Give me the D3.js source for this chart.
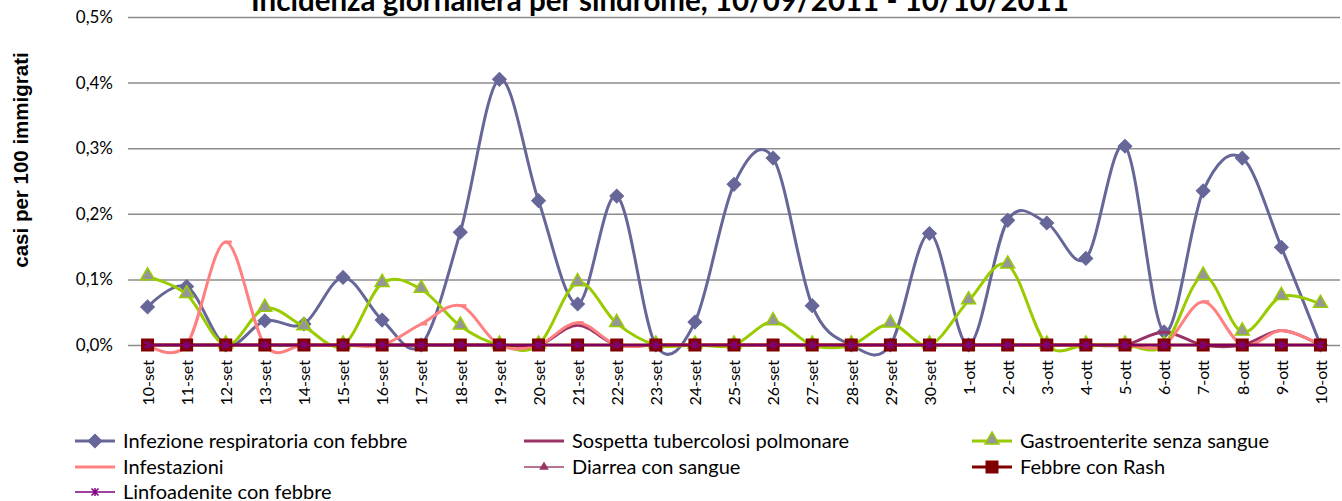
<!DOCTYPE html>
<html>
<head>
<meta charset="utf-8">
<script src="https://cdn.jsdelivr.net/npm/d3@7"></script>
<style>
  body { margin: 0; background: #fff; }
  svg { display: block; font-family: Lato, sans-serif; }
</style>
</head>
<body>
<div id="chart"></div>
<script>
// Data (valori in %)
const days = [
  '10-set', '11-set', '12-set', '13-set', '14-set', '15-set', '16-set', '17-set', '18-set', '19-set', '20-set',
  '21-set', '22-set', '23-set', '24-set', '25-set', '26-set', '27-set', '28-set', '29-set', '30-set',
  '1-ott', '2-ott', '3-ott', '4-ott', '5-ott', '6-ott', '7-ott', '8-ott', '9-ott', '10-ott'
]
const yTicks = [0, 0.1, 0.2, 0.3, 0.4, 0.5]

const infezioneRespiratoria = [
  0.058, 0.089, 0, 0.037, 0.032, 0.103, 0.038, 0, 0.172, 0.405, 0.22,
  0.0625, 0.227, 0, 0.035, 0.245, 0.285, 0.06, 0, 0, 0.17,
  0, 0.19, 0.186, 0.132, 0.303, 0.02, 0.235, 0.285, 0.149, 0
]
const sospettaTbc = [
  0, 0, 0, 0, 0, 0, 0, 0, 0, 0, 0,
  0.03, 0, 0, 0, 0, 0, 0, 0, 0, 0,
  0, 0, 0, 0, 0, 0.02, 0, 0, 0.022, 0
]
const gastroenterite = [
  0.104, 0.077, 0, 0.056, 0.028, 0, 0.094, 0.085, 0.029, 0, 0,
  0.095, 0.033, 0, 0, 0, 0.0355, 0, 0, 0.032, 0,
  0.0675, 0.122, 0, 0, 0, 0, 0.105, 0.02, 0.074, 0.062
]
const infestazioni = [
  0, 0, 0.157, 0, 0, 0, 0, 0.032, 0.06, 0, 0,
  0.034, 0, 0, 0, 0, 0, 0, 0, 0, 0,
  0, 0, 0, 0, 0, 0, 0.066, 0, 0.022, 0
]
const diarreaSangue = days.map(() => 0)
const febbreRash = days.map(() => 0)
const linfoadenite = days.map(() => 0)

const width = 1342
const height = 501

// Series, in Excel drawing order
const series = [
  { name: 'Infezione respiratoria con febbre', values: infezioneRespiratoria, color: '#666699', lineWidth: 3, marker: 'diamond', fill: '#666699', stroke: '#666699' },
  { name: 'Sospetta tubercolosi polmonare', values: sospettaTbc, color: '#993366', lineWidth: 3, marker: null },
  { name: 'Gastroenterite senza sangue', values: gastroenterite, color: '#99CC00', lineWidth: 3, marker: 'triangle', fill: '#969696', stroke: '#99CC00' },
  { name: 'Infestazioni', values: infestazioni, color: '#FF8080', lineWidth: 3, marker: 'dash', fill: '#FF8080', stroke: '#FF8080' },
  { name: 'Diarrea con sangue', values: diarreaSangue, color: '#A0456F', lineWidth: 1.5, marker: 'smalltriangle', fill: '#993366', stroke: '#993366' },
  { name: 'Febbre con Rash', values: febbreRash, color: '#800000', lineWidth: 3, marker: 'square', fill: '#800000', stroke: '#800000' },
  { name: 'Linfoadenite con febbre', values: linfoadenite, color: '#800080', lineWidth: 1.5, marker: 'star', fill: 'none', stroke: '#800080' }
]

const svg = d3.select('#chart')
  .append('svg')
  .attr('width', width)
  .attr('height', height)

// Scales
const plotLeft = 128
const plotRight = 1340
const xScale = d3.scalePoint()
  .domain(days)
  .range([plotLeft, plotRight])
  .padding(0.5)
const yScale = d3.scaleLinear()
  .domain([0, 0.5])
  .range([345, 17])

// Y axis with gridlines
const yAxis = d3.axisLeft(yScale)
  .tickValues(yTicks)
  .tickSize(-(plotRight - plotLeft))
  .tickPadding(15)
  .tickFormat(d => d.toFixed(1).replace('.', ',') + '%')

svg.append('g')
  .attr('id', 'y-axis')
  .attr('transform', `translate(${plotLeft}, 0)`)
  .call(yAxis)
  .call(g => g.select('.domain').remove())
  .call(g => g.selectAll('line').attr('stroke', '#8c8c8c').attr('stroke-width', 1.5))
  .call(g => g.selectAll('text')
    .attr('fill', '#000')
    .style('font-family', 'Lato, sans-serif')
    .style('font-size', '17px'))

// X axis with rotated labels
const xAxis = d3.axisBottom(xScale)
  .tickSize(0)

svg.append('g')
  .attr('id', 'x-axis')
  .attr('transform', `translate(0, ${yScale(0)})`)
  .call(xAxis)
  .call(g => g.select('.domain').remove())
  .call(g => g.selectAll('text')
    .attr('transform', 'rotate(-90)')
    .attr('text-anchor', 'end')
    .attr('x', -15)
    .attr('y', 0)
    .attr('dy', '0.36em')
    .attr('fill', '#000')
    .style('font-family', 'Lato, sans-serif')
    .style('font-size', '16px'))

// Markers
function drawMarker(sel, type, fill, stroke) {
  if (type === 'diamond') {
    sel.append('path')
      .attr('d', d3.symbol(d3.symbolSquare, 95)())
      .attr('transform', 'rotate(45)')
      .attr('fill', fill)
      .attr('stroke', stroke)
  } else if (type === 'triangle') {
    sel.append('path')
      .attr('d', d3.symbol(d3.symbolTriangle, 85)())
      .attr('transform', 'translate(0, -1)')
      .attr('fill', fill)
      .attr('stroke', stroke)
      .attr('stroke-width', 1.5)
  } else if (type === 'smalltriangle') {
    sel.append('path')
      .attr('d', d3.symbol(d3.symbolTriangle, 40)())
      .attr('fill', fill)
  } else if (type === 'square') {
    sel.append('rect')
      .attr('x', -6.5)
      .attr('y', -6.5)
      .attr('width', 13)
      .attr('height', 13)
      .attr('fill', fill)
  } else if (type === 'star') {
    sel.append('path')
      .attr('d', 'M-3.5,-3.5L3.5,3.5M-3.5,3.5L3.5,-3.5M0,-4L0,4')
      .attr('fill', 'none')
      .attr('stroke', stroke)
      .attr('stroke-width', 1.5)
  } else if (type === 'dash') {
    sel.append('path')
      .attr('d', 'M-1,0L6,0')
      .attr('stroke', stroke)
      .attr('stroke-width', 3)
  }
}

// Lines (smoothed like Excel)
const line = d3.line()
  .x((d, i) => xScale(days[i]))
  .y(d => yScale(d))
  .curve(d3.curveCardinal.tension(0))

series.forEach(s => {
  const g = svg.append('g').attr('class', 'series')

  g.append('path')
    .datum(s.values)
    .attr('d', line)
    .attr('fill', 'none')
    .attr('stroke', s.color)
    .attr('stroke-width', s.lineWidth)
    .attr('stroke-linejoin', 'round')

  if (s.marker) {
    g.selectAll('.marker')
      .data(s.values)
      .enter()
      .append('g')
      .attr('class', 'marker')
      .attr('transform', (d, i) => `translate(${xScale(days[i])}, ${yScale(d)})`)
      .each(function () { drawMarker(d3.select(this), s.marker, s.fill, s.stroke) })
  }
})

// Title
svg.append('text')
  .attr('x', 660)
  .attr('y', 11)
  .attr('text-anchor', 'middle')
  .style('font-family', 'Lato, sans-serif')
  .style('font-weight', 'bold')
  .style('font-size', '29.5px')
  .text('Incidenza giornaliera per sindrome, 10/09/2011 - 10/10/2011')

// Y axis title
svg.append('text')
  .attr('transform', 'translate(28, 160) rotate(-90)')
  .attr('text-anchor', 'middle')
  .style('font-family', '"Liberation Sans", Arial, sans-serif')
  .style('font-weight', 'bold')
  .style('font-size', '20.5px')
  .text('casi per 100 immigrati')

// Legend
const legendCols = [75, 524, 972]
const legendRows = [441, 467, 492]

const legend = svg.append('g')
  .attr('id', 'legend')

series.forEach((s, i) => {
  const lx = legendCols[i % 3]
  const ly = legendRows[Math.floor(i / 3)]
  const item = legend.append('g')
    .attr('transform', `translate(${lx}, ${ly})`)

  item.append('line')
    .attr('x1', 0)
    .attr('x2', 40)
    .attr('stroke', s.color)
    .attr('stroke-width', s.lineWidth)

  if (s.marker && s.marker !== 'dash') {
    const m = item.append('g').attr('transform', 'translate(20, 0)')
    drawMarker(m, s.marker, s.fill, s.stroke)
  }

  item.append('text')
    .attr('x', 48)
    .attr('dy', '0.35em')
    .style('font-family', 'Lato, sans-serif')
    .style('font-size', '20px')
    .text(s.name)
})
</script>
</body>
</html>
